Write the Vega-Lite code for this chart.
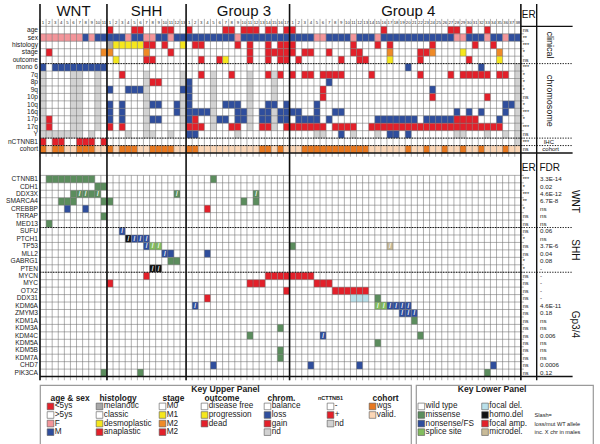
{
"$schema":"https://vega.github.io/schema/vega-lite/v6.json",
"padding":{"left":6,"top":3,"right":0,"bottom":0},
"autosize":{"type":"pad"},
"spacing":0,
"config":{"font":"Liberation Sans","view":{"stroke":null},"concat":{"spacing":0},"text":{"font":"Liberation Sans"}},
"datasets":{
"cols":[{"c":"W1","n":"1"},{"c":"W2","n":"2"},{"c":"W3","n":"3"},{"c":"W4","n":"4"},{"c":"W5","n":"5"},{"c":"W6","n":"6"},{"c":"W7","n":"7"},{"c":"W8","n":"8"},{"c":"W9","n":"9"},{"c":"W10","n":"10"},{"c":"W11","n":"11"},
{"c":"S1","n":"1"},{"c":"S2","n":"2"},{"c":"S3","n":"3"},{"c":"S4","n":"4"},{"c":"S5","n":"5"},{"c":"S6","n":"6"},{"c":"S7","n":"7"},{"c":"S8","n":"8"},{"c":"S9","n":"9"},{"c":"S10","n":"10"},{"c":"S11","n":"11"},{"c":"S12","n":"12"},{"c":"S13","n":"13"},
{"c":"A1","n":"1"},{"c":"A2","n":"2"},{"c":"A3","n":"3"},{"c":"A4","n":"4"},{"c":"A5","n":"5"},{"c":"A6","n":"6"},{"c":"A7","n":"7"},{"c":"A8","n":"8"},{"c":"A9","n":"9"},{"c":"A10","n":"10"},{"c":"A11","n":"11"},{"c":"A12","n":"12"},{"c":"A13","n":"13"},{"c":"A14","n":"14"},{"c":"A15","n":"15"},{"c":"A16","n":"16"},{"c":"A17","n":"17"},
{"c":"B1","n":"1"},{"c":"B2","n":"2"},{"c":"B3","n":"3"},{"c":"B4","n":"4"},{"c":"B5","n":"5"},{"c":"B6","n":"6"},{"c":"B7","n":"7"},{"c":"B8","n":"8"},{"c":"B9","n":"9"},{"c":"B10","n":"10"},{"c":"B11","n":"11"},{"c":"B12","n":"12"},{"c":"B13","n":"13"},{"c":"B14","n":"14"},{"c":"B15","n":"15"},{"c":"B16","n":"16"},{"c":"B17","n":"17"},{"c":"B18","n":"18"},{"c":"B19","n":"19"},{"c":"B20","n":"20"},{"c":"B21","n":"21"},{"c":"B22","n":"22"},{"c":"B23","n":"23"},{"c":"B24","n":"24"},{"c":"B25","n":"25"},{"c":"B26","n":"26"},{"c":"B27","n":"27"},{"c":"B28","n":"28"},{"c":"B29","n":"29"},{"c":"B30","n":"30"},{"c":"B31","n":"31"},{"c":"B32","n":"32"},{"c":"B33","n":"33"},{"c":"B34","n":"34"},{"c":"B35","n":"35"},{"c":"B36","n":"36"},{"c":"B37","n":"37"},{"c":"B38","n":"38"}],
"rows":[{"r":"age","er":"ns"},{"r":"sex","er":"**"},{"r":"histology","er":"***"},{"r":"stage","er":"*"},{"r":"outcome","er":"ns"},{"r":"mono 6","er":"***"},{"r":"7q","er":"*"},{"r":"8p","er":"*"},{"r":"9q","er":"*"},{"r":"10p","er":"ns"},{"r":"10q","er":"*"},{"r":"16q","er":"***"},{"r":"17p","er":"*"},{"r":"17q","er":"***"},{"r":"Y","er":"ns"},{"r":"nCTNNB1","er":"***"},{"r":"cohort","er":"ns"},
{"r":"CTNNB1","er":"***","fdr":"3.3E-14"},{"r":"CDH1","er":"*","fdr":"0.02"},{"r":"DDX3X","er":"***","fdr":"4.6E-12"},{"r":"SMARCA4","er":"**","fdr":"6.7E-8"},{"r":"CREBBP","er":"*","fdr":"ns"},{"r":"TRRAP","er":"ns","fdr":"ns"},{"r":"MED13","er":"ns","fdr":"ns"},{"r":"SUFU","er":"ns","fdr":"0.06"},{"r":"PTCH1","er":"*","fdr":"ns"},{"r":"TP53","er":"ns","fdr":"3.7E-6"},{"r":"MLL2","er":"ns","fdr":"0.04"},{"r":"GABRG1","er":"*","fdr":"0.08"},{"r":"PTEN","er":"*","fdr":"-"},{"r":"MYCN","er":"ns","fdr":"-"},{"r":"MYC","er":"ns","fdr":"-"},{"r":"OTX2","er":"ns","fdr":"-"},{"r":"DDX31","er":"ns","fdr":"-"},{"r":"KDM6A","er":"ns","fdr":"4.6E-11"},{"r":"ZMYM3","er":"ns","fdr":"0.18"},{"r":"KDM1A","er":"ns","fdr":"ns"},{"r":"KDM3A","er":"ns","fdr":"ns"},{"r":"KDM4C","er":"ns","fdr":"0.006"},{"r":"KDM5A","er":"ns","fdr":"ns"},{"r":"KDM5B","er":"ns","fdr":"ns"},{"r":"KDM7A","er":"ns","fdr":"ns"},{"r":"CHD7","er":"ns","fdr":"0.0006"},{"r":"PIK3CA","er":"ns","fdr":"0.12"}],
"cells":[
{"r":"age","c":"S1","v":"lt5"},{"r":"age","c":"S5","v":"lt5"},{"r":"age","c":"S6","v":"lt5"},{"r":"age","c":"S10","v":"lt5"},{"r":"age","c":"S11","v":"lt5"},{"r":"age","c":"A1","v":"lt5"},{"r":"age","c":"A7","v":"lt5"},{"r":"age","c":"A8","v":"lt5"},{"r":"age","c":"A10","v":"lt5"},{"r":"age","c":"A11","v":"lt5"},{"r":"age","c":"A12","v":"lt5"},{"r":"age","c":"A14","v":"lt5"},{"r":"age","c":"A15","v":"lt5"},{"r":"age","c":"A17","v":"lt5"},{"r":"age","c":"B1","v":"lt5"},{"r":"age","c":"B16","v":"lt5"},{"r":"age","c":"B27","v":"lt5"},{"r":"age","c":"B28","v":"lt5"},{"r":"age","c":"B30","v":"lt5"},{"r":"age","c":"B33","v":"lt5"},
{"r":"sex","c":"W1","v":"F"},{"r":"sex","c":"W2","v":"F"},{"r":"sex","c":"W3","v":"F"},{"r":"sex","c":"W4","v":"F"},{"r":"sex","c":"W5","v":"F"},{"r":"sex","c":"W6","v":"F"},{"r":"sex","c":"W7","v":"F"},{"r":"sex","c":"W8","v":"M"},{"r":"sex","c":"W9","v":"F"},{"r":"sex","c":"W10","v":"M"},{"r":"sex","c":"W11","v":"M"},
{"r":"sex","c":"S1","v":"M"},{"r":"sex","c":"S2","v":"M"},{"r":"sex","c":"S3","v":"M"},{"r":"sex","c":"S4","v":"F"},{"r":"sex","c":"S5","v":"M"},{"r":"sex","c":"S6","v":"M"},{"r":"sex","c":"S7","v":"F"},{"r":"sex","c":"S8","v":"F"},{"r":"sex","c":"S9","v":"M"},{"r":"sex","c":"S10","v":"M"},{"r":"sex","c":"S11","v":"F"},{"r":"sex","c":"S12","v":"M"},{"r":"sex","c":"S13","v":"M"},
{"r":"sex","c":"A1","v":"M"},{"r":"sex","c":"A2","v":"M"},{"r":"sex","c":"A3","v":"M"},{"r":"sex","c":"A4","v":"M"},{"r":"sex","c":"A5","v":"M"},{"r":"sex","c":"A6","v":"M"},{"r":"sex","c":"A7","v":"M"},{"r":"sex","c":"A8","v":"M"},{"r":"sex","c":"A9","v":"F"},{"r":"sex","c":"A10","v":"M"},{"r":"sex","c":"A11","v":"M"},{"r":"sex","c":"A12","v":"M"},{"r":"sex","c":"A13","v":"M"},{"r":"sex","c":"A14","v":"M"},{"r":"sex","c":"A15","v":"M"},{"r":"sex","c":"A16","v":"M"},{"r":"sex","c":"A17","v":"M"},
{"r":"sex","c":"B1","v":"M"},{"r":"sex","c":"B2","v":"M"},{"r":"sex","c":"B3","v":"M"},{"r":"sex","c":"B4","v":"M"},{"r":"sex","c":"B5","v":"F"},{"r":"sex","c":"B6","v":"F"},{"r":"sex","c":"B7","v":"M"},{"r":"sex","c":"B8","v":"M"},{"r":"sex","c":"B9","v":"M"},{"r":"sex","c":"B10","v":"M"},{"r":"sex","c":"B11","v":"F"},{"r":"sex","c":"B12","v":"M"},{"r":"sex","c":"B13","v":"M"},{"r":"sex","c":"B14","v":"M"},{"r":"sex","c":"B15","v":"F"},{"r":"sex","c":"B16","v":"M"},{"r":"sex","c":"B17","v":"M"},{"r":"sex","c":"B18","v":"M"},{"r":"sex","c":"B19","v":"M"},{"r":"sex","c":"B20","v":"M"},{"r":"sex","c":"B21","v":"M"},{"r":"sex","c":"B22","v":"M"},{"r":"sex","c":"B23","v":"M"},{"r":"sex","c":"B24","v":"M"},{"r":"sex","c":"B25","v":"M"},{"r":"sex","c":"B26","v":"M"},{"r":"sex","c":"B27","v":"M"},{"r":"sex","c":"B28","v":"F"},{"r":"sex","c":"B29","v":"F"},{"r":"sex","c":"B30","v":"M"},{"r":"sex","c":"B31","v":"M"},{"r":"sex","c":"B32","v":"M"},{"r":"sex","c":"B33","v":"F"},{"r":"sex","c":"B34","v":"M"},{"r":"sex","c":"B35","v":"M"},{"r":"sex","c":"B36","v":"F"},{"r":"sex","c":"B37","v":"M"},{"r":"sex","c":"B38","v":"M"},
{"r":"histology","c":"S1","v":"mel"},{"r":"histology","c":"S2","v":"desmo"},{"r":"histology","c":"S3","v":"desmo"},{"r":"histology","c":"S4","v":"desmo"},{"r":"histology","c":"S5","v":"desmo"},{"r":"histology","c":"S6","v":"desmo"},{"r":"histology","c":"S7","v":"anap"},{"r":"histology","c":"S8","v":"anap"},{"r":"histology","c":"S10","v":"anap"},{"r":"histology","c":"S13","v":"desmo"},{"r":"histology","c":"A2","v":"anap"},{"r":"histology","c":"A3","v":"anap"},{"r":"histology","c":"A9","v":"anap"},{"r":"histology","c":"A11","v":"anap"},{"r":"histology","c":"A14","v":"anap"},{"r":"histology","c":"A16","v":"anap"},{"r":"histology","c":"A17","v":"anap"},{"r":"histology","c":"B1","v":"anap"},{"r":"histology","c":"B11","v":"anap"},{"r":"histology","c":"B15","v":"anap"},{"r":"histology","c":"B17","v":"anap"},{"r":"histology","c":"B24","v":"anap"},{"r":"histology","c":"B31","v":"anap"},{"r":"histology","c":"B34","v":"anap"},
{"r":"stage","c":"W2","v":"M3"},{"r":"stage","c":"W11","v":"M2"},{"r":"stage","c":"S1","v":"M2"},{"r":"stage","c":"S7","v":"M2"},{"r":"stage","c":"S11","v":"M3"},{"r":"stage","c":"A11","v":"M3"},{"r":"stage","c":"A14","v":"M3"},{"r":"stage","c":"A15","v":"M3"},{"r":"stage","c":"A16","v":"M3"},{"r":"stage","c":"A17","v":"M3"},{"r":"stage","c":"B1","v":"M3"},{"r":"stage","c":"B3","v":"M3"},{"r":"stage","c":"B4","v":"M3"},{"r":"stage","c":"B7","v":"M3"},{"r":"stage","c":"B11","v":"M3"},{"r":"stage","c":"B12","v":"M3"},{"r":"stage","c":"B17","v":"M2"},{"r":"stage","c":"B22","v":"M3"},{"r":"stage","c":"B23","v":"M3"},{"r":"stage","c":"B24","v":"M2"},{"r":"stage","c":"B29","v":"M1"},{"r":"stage","c":"B35","v":"M2"},
{"r":"outcome","c":"S2","v":"prog"},{"r":"outcome","c":"S7","v":"dead"},{"r":"outcome","c":"S8","v":"dead"},{"r":"outcome","c":"A3","v":"dead"},{"r":"outcome","c":"A6","v":"dead"},{"r":"outcome","c":"A7","v":"prog"},{"r":"outcome","c":"A11","v":"dead"},{"r":"outcome","c":"A14","v":"dead"},{"r":"outcome","c":"A16","v":"dead"},{"r":"outcome","c":"A17","v":"dead"},{"r":"outcome","c":"B2","v":"dead"},{"r":"outcome","c":"B9","v":"dead"},{"r":"outcome","c":"B12","v":"dead"},{"r":"outcome","c":"B13","v":"dead"},{"r":"outcome","c":"B17","v":"prog"},{"r":"outcome","c":"B22","v":"dead"},{"r":"outcome","c":"B30","v":"dead"},{"r":"outcome","c":"B35","v":"prog"},
{"r":"mono 6","c":"W1","v":"loss"},{"r":"mono 6","c":"W3","v":"loss"},{"r":"mono 6","c":"W4","v":"loss"},{"r":"mono 6","c":"W5","v":"loss"},{"r":"mono 6","c":"W6","v":"loss"},{"r":"mono 6","c":"W7","v":"loss"},{"r":"mono 6","c":"W8","v":"loss"},{"r":"mono 6","c":"W9","v":"loss"},{"r":"mono 6","c":"W10","v":"loss"},{"r":"mono 6","c":"W11","v":"loss"},{"r":"mono 6","c":"B20","v":"loss"},{"r":"mono 6","c":"B32","v":"loss"},{"r":"mono 6","c":"B38","v":"nd"},
{"r":"7q","c":"S3","v":"gain"},{"r":"7q","c":"A3","v":"gain"},{"r":"7q","c":"A8","v":"gain"},{"r":"7q","c":"A14","v":"gain"},{"r":"7q","c":"A16","v":"gain"},{"r":"7q","c":"B1","v":"gain"},{"r":"7q","c":"B3","v":"gain"},{"r":"7q","c":"B4","v":"gain"},{"r":"7q","c":"B6","v":"gain"},{"r":"7q","c":"B7","v":"gain"},{"r":"7q","c":"B8","v":"gain"},{"r":"7q","c":"B9","v":"gain"},{"r":"7q","c":"B14","v":"gain"},{"r":"7q","c":"B22","v":"gain"},{"r":"7q","c":"B27","v":"gain"},{"r":"7q","c":"B29","v":"gain"},{"r":"7q","c":"B30","v":"gain"},{"r":"7q","c":"B31","v":"gain"},{"r":"7q","c":"B32","v":"gain"},{"r":"7q","c":"B33","v":"gain"},{"r":"7q","c":"B35","v":"gain"},{"r":"7q","c":"B36","v":"gain"},
{"r":"8p","c":"S8","v":"gain"},{"r":"8p","c":"S9","v":"gain"},{"r":"8p","c":"A1","v":"loss"},{"r":"8p","c":"B7","v":"loss"},
{"r":"9q","c":"S1","v":"loss"},{"r":"9q","c":"S4","v":"loss"},{"r":"9q","c":"S5","v":"loss"},{"r":"9q","c":"S6","v":"loss"},{"r":"9q","c":"S13","v":"loss"},{"r":"9q","c":"A1","v":"loss"},{"r":"9q","c":"B24","v":"loss"},{"r":"9q","c":"B6","v":"gain"},
{"r":"10p","c":"A1","v":"loss"},{"r":"10p","c":"B6","v":"gain"},{"r":"10p","c":"B24","v":"gain"},{"r":"10p","c":"B33","v":"gain"},
{"r":"10q","c":"S1","v":"loss"},{"r":"10q","c":"S3","v":"loss"},{"r":"10q","c":"S8","v":"loss"},{"r":"10q","c":"S9","v":"loss"},{"r":"10q","c":"S12","v":"loss"},{"r":"10q","c":"A1","v":"loss"},{"r":"10q","c":"A7","v":"loss"},{"r":"10q","c":"A8","v":"loss"},{"r":"10q","c":"A9","v":"loss"},{"r":"10q","c":"A14","v":"loss"},{"r":"10q","c":"A15","v":"loss"},{"r":"10q","c":"A17","v":"loss"},{"r":"10q","c":"B5","v":"loss"},{"r":"10q","c":"B36","v":"loss"},{"r":"10q","c":"B37","v":"loss"},
{"r":"16q","c":"S1","v":"loss"},{"r":"16q","c":"S3","v":"loss"},{"r":"16q","c":"S12","v":"loss"},{"r":"16q","c":"A1","v":"loss"},{"r":"16q","c":"A2","v":"loss"},{"r":"16q","c":"A3","v":"loss"},{"r":"16q","c":"A4","v":"loss"},{"r":"16q","c":"A9","v":"loss"},{"r":"16q","c":"A10","v":"loss"},{"r":"16q","c":"A13","v":"loss"},{"r":"16q","c":"A14","v":"loss"},{"r":"16q","c":"A16","v":"loss"},{"r":"16q","c":"A17","v":"loss"},{"r":"16q","c":"B1","v":"loss"},{"r":"16q","c":"B2","v":"loss"},{"r":"16q","c":"B5","v":"loss"},{"r":"16q","c":"B8","v":"loss"},{"r":"16q","c":"B9","v":"loss"},{"r":"16q","c":"B28","v":"loss"},{"r":"16q","c":"B30","v":"loss"},{"r":"16q","c":"B32","v":"loss"},{"r":"16q","c":"B36","v":"loss"},
{"r":"17p","c":"W2","v":"gain"},{"r":"17p","c":"S1","v":"loss"},{"r":"17p","c":"S3","v":"loss"},{"r":"17p","c":"S8","v":"loss"},{"r":"17p","c":"S9","v":"loss"},{"r":"17p","c":"A1","v":"loss"},{"r":"17p","c":"A2","v":"gain"},{"r":"17p","c":"A6","v":"loss"},{"r":"17p","c":"A7","v":"loss"},{"r":"17p","c":"A9","v":"loss"},{"r":"17p","c":"A10","v":"loss"},{"r":"17p","c":"A13","v":"loss"},{"r":"17p","c":"A14","v":"loss"},{"r":"17p","c":"A16","v":"loss"},{"r":"17p","c":"A17","v":"loss"},{"r":"17p","c":"B2","v":"loss"},{"r":"17p","c":"B3","v":"loss"},{"r":"17p","c":"B4","v":"loss"},{"r":"17p","c":"B5","v":"loss"},{"r":"17p","c":"B7","v":"loss"},{"r":"17p","c":"B15","v":"loss"},{"r":"17p","c":"B16","v":"loss"},{"r":"17p","c":"B17","v":"loss"},{"r":"17p","c":"B18","v":"loss"},{"r":"17p","c":"B19","v":"loss"},{"r":"17p","c":"B20","v":"loss"},{"r":"17p","c":"B21","v":"loss"},{"r":"17p","c":"B23","v":"loss"},{"r":"17p","c":"B24","v":"loss"},{"r":"17p","c":"B25","v":"loss"},{"r":"17p","c":"B26","v":"loss"},{"r":"17p","c":"B27","v":"loss"},{"r":"17p","c":"B28","v":"gain"},{"r":"17p","c":"B29","v":"gain"},{"r":"17p","c":"B30","v":"gain"},{"r":"17p","c":"B31","v":"gain"},{"r":"17p","c":"B35","v":"loss"},
{"r":"17q","c":"W2","v":"gain"},{"r":"17q","c":"S1","v":"gain"},{"r":"17q","c":"S3","v":"gain"},{"r":"17q","c":"A1","v":"gain"},{"r":"17q","c":"A2","v":"gain"},{"r":"17q","c":"A3","v":"gain"},{"r":"17q","c":"A8","v":"gain"},{"r":"17q","c":"A9","v":"gain"},{"r":"17q","c":"A13","v":"gain"},{"r":"17q","c":"A14","v":"gain"},{"r":"17q","c":"A17","v":"gain"},{"r":"17q","c":"B1","v":"gain"},{"r":"17q","c":"B2","v":"gain"},{"r":"17q","c":"B3","v":"gain"},{"r":"17q","c":"B4","v":"gain"},{"r":"17q","c":"B5","v":"gain"},{"r":"17q","c":"B6","v":"gain"},{"r":"17q","c":"B8","v":"gain"},{"r":"17q","c":"B9","v":"gain"},{"r":"17q","c":"B10","v":"gain"},{"r":"17q","c":"B11","v":"gain"},{"r":"17q","c":"B14","v":"gain"},{"r":"17q","c":"B15","v":"gain"},{"r":"17q","c":"B16","v":"gain"},{"r":"17q","c":"B17","v":"gain"},{"r":"17q","c":"B18","v":"gain"},{"r":"17q","c":"B19","v":"gain"},{"r":"17q","c":"B20","v":"gain"},{"r":"17q","c":"B21","v":"gain"},{"r":"17q","c":"B22","v":"gain"},{"r":"17q","c":"B23","v":"gain"},{"r":"17q","c":"B24","v":"gain"},{"r":"17q","c":"B25","v":"gain"},{"r":"17q","c":"B26","v":"gain"},{"r":"17q","c":"B27","v":"gain"},{"r":"17q","c":"B28","v":"gain"},{"r":"17q","c":"B29","v":"gain"},{"r":"17q","c":"B30","v":"gain"},{"r":"17q","c":"B31","v":"gain"},{"r":"17q","c":"B32","v":"gain"},{"r":"17q","c":"B33","v":"gain"},{"r":"17q","c":"B34","v":"gain"},{"r":"17q","c":"B35","v":"gain"},
{"r":"Y","c":"A1","v":"loss"},{"r":"Y","c":"A2","v":"loss"},{"r":"Y","c":"B9","v":"loss"},{"r":"Y","c":"B17","v":"loss"},{"r":"Y","c":"B18","v":"loss"},{"r":"Y","c":"B20","v":"loss"},
{"r":"Y","c":"W1","v":"nd"},{"r":"Y","c":"W2","v":"nd"},{"r":"Y","c":"W3","v":"nd"},{"r":"Y","c":"W4","v":"nd"},{"r":"Y","c":"W5","v":"nd"},{"r":"Y","c":"W6","v":"nd"},{"r":"Y","c":"W7","v":"nd"},{"r":"Y","c":"W9","v":"nd"},{"r":"Y","c":"S4","v":"nd"},{"r":"Y","c":"S7","v":"nd"},{"r":"Y","c":"S8","v":"nd"},{"r":"Y","c":"S11","v":"nd"},{"r":"Y","c":"A9","v":"nd"},{"r":"Y","c":"B5","v":"nd"},{"r":"Y","c":"B6","v":"nd"},{"r":"Y","c":"B11","v":"nd"},{"r":"Y","c":"B15","v":"nd"},{"r":"Y","c":"B28","v":"nd"},{"r":"Y","c":"B29","v":"nd"},{"r":"Y","c":"B33","v":"nd"},{"r":"Y","c":"B36","v":"nd"},{"r":"Y","c":"B38","v":"nd"},
{"r":"7q","c":"W1","v":"nd"},{"r":"8p","c":"W1","v":"nd"},{"r":"9q","c":"W1","v":"nd"},{"r":"10p","c":"W1","v":"nd"},{"r":"10q","c":"W1","v":"nd"},{"r":"16q","c":"W1","v":"nd"},{"r":"17p","c":"W1","v":"nd"},{"r":"17q","c":"W1","v":"nd"},
{"r":"7q","c":"W6","v":"nd"},{"r":"8p","c":"W6","v":"nd"},{"r":"9q","c":"W6","v":"nd"},{"r":"10p","c":"W6","v":"nd"},{"r":"10q","c":"W6","v":"nd"},{"r":"16q","c":"W6","v":"nd"},{"r":"17p","c":"W6","v":"nd"},{"r":"17q","c":"W6","v":"nd"},
{"r":"7q","c":"W7","v":"nd"},{"r":"8p","c":"W7","v":"nd"},{"r":"9q","c":"W7","v":"nd"},{"r":"10p","c":"W7","v":"nd"},{"r":"10q","c":"W7","v":"nd"},{"r":"16q","c":"W7","v":"nd"},{"r":"17p","c":"W7","v":"nd"},{"r":"17q","c":"W7","v":"nd"},
{"r":"7q","c":"W10","v":"nd"},{"r":"8p","c":"W10","v":"nd"},{"r":"9q","c":"W10","v":"nd"},{"r":"10p","c":"W10","v":"nd"},{"r":"10q","c":"W10","v":"nd"},{"r":"16q","c":"W10","v":"nd"},{"r":"17p","c":"W10","v":"nd"},{"r":"17q","c":"W10","v":"nd"},
{"r":"7q","c":"S7","v":"nd"},{"r":"8p","c":"S7","v":"nd"},{"r":"9q","c":"S7","v":"nd"},{"r":"10p","c":"S7","v":"nd"},{"r":"10q","c":"S7","v":"nd"},{"r":"16q","c":"S7","v":"nd"},{"r":"17p","c":"S7","v":"nd"},{"r":"17q","c":"S7","v":"nd"},
{"r":"7q","c":"S13","v":"nd"},{"r":"8p","c":"S13","v":"nd"},{"r":"10p","c":"S13","v":"nd"},{"r":"10q","c":"S13","v":"nd"},{"r":"16q","c":"S13","v":"nd"},{"r":"17p","c":"S13","v":"nd"},{"r":"17q","c":"S13","v":"nd"},
{"r":"7q","c":"A5","v":"nd"},{"r":"8p","c":"A5","v":"nd"},{"r":"9q","c":"A5","v":"nd"},{"r":"10p","c":"A5","v":"nd"},{"r":"10q","c":"A5","v":"nd"},{"r":"16q","c":"A5","v":"nd"},{"r":"17p","c":"A5","v":"nd"},{"r":"17q","c":"A5","v":"nd"},
{"r":"7q","c":"A11","v":"nd"},{"r":"8p","c":"A11","v":"nd"},{"r":"9q","c":"A11","v":"nd"},{"r":"10p","c":"A11","v":"nd"},{"r":"10q","c":"A11","v":"nd"},{"r":"16q","c":"A11","v":"nd"},{"r":"17p","c":"A11","v":"nd"},{"r":"17q","c":"A11","v":"nd"},
{"r":"7q","c":"A15","v":"nd"},{"r":"8p","c":"A15","v":"nd"},{"r":"9q","c":"A15","v":"nd"},{"r":"10p","c":"A15","v":"nd"},{"r":"16q","c":"A15","v":"nd"},{"r":"17p","c":"A15","v":"nd"},{"r":"17q","c":"A15","v":"nd"},
{"r":"7q","c":"B38","v":"nd"},{"r":"8p","c":"B38","v":"nd"},{"r":"9q","c":"B38","v":"nd"},{"r":"10p","c":"B38","v":"nd"},{"r":"10q","c":"B38","v":"nd"},{"r":"16q","c":"B38","v":"nd"},{"r":"17p","c":"B38","v":"nd"},{"r":"17q","c":"B38","v":"nd"},{"r":"nCTNNB1","c":"B38","v":"nd"},
{"r":"nCTNNB1","c":"W1","v":"pos"},{"r":"nCTNNB1","c":"W3","v":"pos"},{"r":"nCTNNB1","c":"W4","v":"pos"},{"r":"nCTNNB1","c":"W7","v":"pos"},{"r":"nCTNNB1","c":"W8","v":"pos"},{"r":"nCTNNB1","c":"W9","v":"pos"},{"r":"nCTNNB1","c":"W11","v":"pos"},
{"r":"cohort","c":"W1","v":"wgs"},{"r":"cohort","c":"W2","v":"valid"},{"r":"cohort","c":"W3","v":"wgs"},{"r":"cohort","c":"W4","v":"wgs"},{"r":"cohort","c":"W5","v":"valid"},{"r":"cohort","c":"W6","v":"valid"},{"r":"cohort","c":"W7","v":"wgs"},{"r":"cohort","c":"W8","v":"wgs"},{"r":"cohort","c":"W9","v":"wgs"},{"r":"cohort","c":"W10","v":"valid"},{"r":"cohort","c":"W11","v":"valid"},
{"r":"cohort","c":"S1","v":"wgs"},{"r":"cohort","c":"S2","v":"valid"},{"r":"cohort","c":"S3","v":"wgs"},{"r":"cohort","c":"S4","v":"wgs"},{"r":"cohort","c":"S5","v":"wgs"},{"r":"cohort","c":"S6","v":"valid"},{"r":"cohort","c":"S7","v":"valid"},{"r":"cohort","c":"S8","v":"wgs"},{"r":"cohort","c":"S9","v":"wgs"},{"r":"cohort","c":"S10","v":"wgs"},{"r":"cohort","c":"S11","v":"wgs"},{"r":"cohort","c":"S12","v":"valid"},{"r":"cohort","c":"S13","v":"valid"},
{"r":"cohort","c":"A1","v":"wgs"},{"r":"cohort","c":"A2","v":"wgs"},{"r":"cohort","c":"A3","v":"valid"},{"r":"cohort","c":"A4","v":"valid"},{"r":"cohort","c":"A5","v":"valid"},{"r":"cohort","c":"A6","v":"valid"},{"r":"cohort","c":"A7","v":"valid"},{"r":"cohort","c":"A8","v":"valid"},{"r":"cohort","c":"A9","v":"valid"},{"r":"cohort","c":"A10","v":"valid"},{"r":"cohort","c":"A11","v":"valid"},{"r":"cohort","c":"A12","v":"valid"},{"r":"cohort","c":"A13","v":"wgs"},{"r":"cohort","c":"A14","v":"wgs"},{"r":"cohort","c":"A15","v":"valid"},{"r":"cohort","c":"A16","v":"wgs"},{"r":"cohort","c":"A17","v":"valid"},
{"r":"cohort","c":"B1","v":"valid"},{"r":"cohort","c":"B2","v":"valid"},{"r":"cohort","c":"B3","v":"wgs"},{"r":"cohort","c":"B4","v":"wgs"},{"r":"cohort","c":"B5","v":"wgs"},{"r":"cohort","c":"B6","v":"wgs"},{"r":"cohort","c":"B7","v":"wgs"},{"r":"cohort","c":"B8","v":"wgs"},{"r":"cohort","c":"B9","v":"wgs"},{"r":"cohort","c":"B10","v":"wgs"},{"r":"cohort","c":"B11","v":"wgs"},{"r":"cohort","c":"B12","v":"wgs"},{"r":"cohort","c":"B13","v":"wgs"},{"r":"cohort","c":"B14","v":"valid"},{"r":"cohort","c":"B15","v":"valid"},{"r":"cohort","c":"B16","v":"valid"},{"r":"cohort","c":"B17","v":"valid"},{"r":"cohort","c":"B18","v":"valid"},{"r":"cohort","c":"B19","v":"valid"},{"r":"cohort","c":"B20","v":"wgs"},{"r":"cohort","c":"B21","v":"valid"},{"r":"cohort","c":"B22","v":"valid"},{"r":"cohort","c":"B23","v":"wgs"},{"r":"cohort","c":"B24","v":"valid"},{"r":"cohort","c":"B25","v":"valid"},{"r":"cohort","c":"B26","v":"wgs"},{"r":"cohort","c":"B27","v":"valid"},{"r":"cohort","c":"B28","v":"valid"},{"r":"cohort","c":"B29","v":"wgs"},{"r":"cohort","c":"B30","v":"valid"},{"r":"cohort","c":"B31","v":"valid"},{"r":"cohort","c":"B32","v":"wgs"},{"r":"cohort","c":"B33","v":"valid"},{"r":"cohort","c":"B34","v":"valid"},{"r":"cohort","c":"B35","v":"valid"},{"r":"cohort","c":"B36","v":"wgs"},{"r":"cohort","c":"B37","v":"valid"},{"r":"cohort","c":"B38","v":"valid"},
{"r":"CTNNB1","c":"W2","v":"mis"},{"r":"CTNNB1","c":"W3","v":"mis"},{"r":"CTNNB1","c":"W4","v":"mis"},{"r":"CTNNB1","c":"W5","v":"mis"},{"r":"CTNNB1","c":"W6","v":"mis"},{"r":"CTNNB1","c":"W7","v":"mis"},{"r":"CTNNB1","c":"W8","v":"mis"},{"r":"CTNNB1","c":"W9","v":"mis"},{"r":"CTNNB1","c":"A5","v":"mis"},
{"r":"CDH1","c":"W10","v":"mis"},{"r":"CDH1","c":"W11","v":"mis"},
{"r":"DDX3X","c":"W6","v":"mis"},{"r":"DDX3X","c":"W7","v":"mis","s":1},{"r":"DDX3X","c":"W8","v":"mis","s":1},{"r":"DDX3X","c":"W9","v":"mis"},{"r":"DDX3X","c":"W10","v":"mis","s":1},{"r":"DDX3X","c":"S12","v":"mis","s":1},{"r":"DDX3X","c":"A12","v":"mis","s":1},
{"r":"SMARCA4","c":"W4","v":"mis"},{"r":"SMARCA4","c":"W5","v":"mis"},{"r":"SMARCA4","c":"W6","v":"mis"},{"r":"SMARCA4","c":"W11","v":"mis"},{"r":"SMARCA4","c":"S1","v":"mis"},{"r":"SMARCA4","c":"A10","v":"mis"},{"r":"SMARCA4","c":"A12","v":"mis"},
{"r":"CREBBP","c":"W5","v":"non"},{"r":"CREBBP","c":"W8","v":"non"},{"r":"CREBBP","c":"A4","v":"famp"},
{"r":"TRRAP","c":"W11","v":"mis"},{"r":"MED13","c":"W2","v":"mis"},
{"r":"SUFU","c":"S3","v":"non","s":1},
{"r":"PTCH1","c":"S4","v":"homo","s":1},{"r":"PTCH1","c":"S5","v":"non","s":1},{"r":"PTCH1","c":"S6","v":"non","s":1},{"r":"PTCH1","c":"S7","v":"non","s":1},
{"r":"TP53","c":"S7","v":"non","s":1},{"r":"TP53","c":"S8","v":"spl","s":1},{"r":"TP53","c":"S9","v":"spl","s":1},{"r":"TP53","c":"B1","v":"mis"},{"r":"TP53","c":"B17","v":"micro","s":1},
{"r":"MLL2","c":"S10","v":"non","s":1},{"r":"MLL2","c":"S11","v":"non"},{"r":"MLL2","c":"A4","v":"non"},
{"r":"GABRG1","c":"S11","v":"mis"},{"r":"GABRG1","c":"S12","v":"mis"},
{"r":"PTEN","c":"S8","v":"homo","s":1},{"r":"PTEN","c":"S9","v":"homo","s":1},
{"r":"MYCN","c":"S7","v":"famp"},{"r":"MYCN","c":"A14","v":"famp"},{"r":"MYCN","c":"A15","v":"famp"},{"r":"MYCN","c":"A16","v":"famp"},{"r":"MYCN","c":"A17","v":"famp"},{"r":"MYCN","c":"B1","v":"famp"},{"r":"MYCN","c":"B2","v":"famp"},{"r":"MYCN","c":"B3","v":"famp"},{"r":"MYCN","c":"B4","v":"famp"},
{"r":"MYC","c":"S1","v":"famp"},{"r":"MYC","c":"A11","v":"famp"},{"r":"MYC","c":"A12","v":"famp"},{"r":"MYC","c":"A13","v":"famp"},{"r":"MYC","c":"B5","v":"famp"},{"r":"MYC","c":"B6","v":"famp"},{"r":"MYC","c":"B7","v":"famp"},
{"r":"OTX2","c":"A17","v":"famp"},{"r":"OTX2","c":"B8","v":"famp"},{"r":"OTX2","c":"B9","v":"famp"},{"r":"OTX2","c":"B10","v":"famp"},{"r":"OTX2","c":"B11","v":"famp"},{"r":"OTX2","c":"B12","v":"famp"},{"r":"OTX2","c":"B13","v":"famp"},
{"r":"DDX31","c":"A4","v":"famp"},{"r":"DDX31","c":"B11","v":"fdel"},{"r":"DDX31","c":"B12","v":"fdel"},{"r":"DDX31","c":"B13","v":"fdel"},{"r":"DDX31","c":"B15","v":"mis"},
{"r":"KDM6A","c":"A2","v":"non","s":1},{"r":"KDM6A","c":"B15","v":"spl","s":1},{"r":"KDM6A","c":"B16","v":"spl","s":1},{"r":"KDM6A","c":"B17","v":"non","s":1},{"r":"KDM6A","c":"B18","v":"non","s":1},{"r":"KDM6A","c":"B19","v":"non","s":1},{"r":"KDM6A","c":"B20","v":"non","s":1},
{"r":"ZMYM3","c":"B19","v":"non","s":1},{"r":"ZMYM3","c":"B20","v":"non","s":1},{"r":"ZMYM3","c":"B21","v":"non","s":1},
{"r":"KDM1A","c":"B21","v":"mis"},{"r":"KDM3A","c":"A16","v":"mis"},
{"r":"KDM4C","c":"A11","v":"mis"},{"r":"KDM4C","c":"B6","v":"non","s":1},{"r":"KDM4C","c":"B22","v":"mis"},
{"r":"KDM5A","c":"B15","v":"mis"},{"r":"KDM5B","c":"A16","v":"mis"},{"r":"KDM7A","c":"A16","v":"mis"},
{"r":"CHD7","c":"A5","v":"non"},{"r":"CHD7","c":"B4","v":"non"},{"r":"CHD7","c":"B12","v":"non"},{"r":"CHD7","c":"B34","v":"non"},
{"r":"PIK3CA","c":"W11","v":"mis"},{"r":"PIK3CA","c":"S6","v":"mis"},{"r":"PIK3CA","c":"B33","v":"mis"}
],
"legU":[{"g":"age & sex","k":"1","label":"<5ys","cat":"lt5"},{"g":"age & sex","k":"2","label":">5ys","cat":"gt5"},{"g":"age & sex","k":"3","label":"F","cat":"F"},{"g":"age & sex","k":"4","label":"M","cat":"M"},
{"g":"histology","k":"1","label":"melanotic","cat":"mel"},{"g":"histology","k":"2","label":"classic","cat":"classic"},{"g":"histology","k":"3","label":"desmoplastic","cat":"desmo"},{"g":"histology","k":"4","label":"anaplastic","cat":"anap"},
{"g":"stage","k":"1","label":"M0","cat":"M0"},{"g":"stage","k":"2","label":"M1","cat":"M1"},{"g":"stage","k":"3","label":"M2","cat":"M2"},{"g":"stage","k":"4","label":"M2","cat":"M3"},
{"g":"outcome","k":"1","label":"disease free","cat":"df"},{"g":"outcome","k":"2","label":"progression","cat":"prog"},{"g":"outcome","k":"3","label":"dead","cat":"dead"},
{"g":"chrom.","k":"1","label":"balance","cat":"bal"},{"g":"chrom.","k":"2","label":"loss","cat":"loss"},{"g":"chrom.","k":"3","label":"gain","cat":"gain"},{"g":"chrom.","k":"4","label":"nd","cat":"nd"},
{"g":"nCTTNB1","k":"1","label":"-","cat":"neg"},{"g":"nCTTNB1","k":"2","label":"+","cat":"pos"},{"g":"nCTTNB1","k":"3","label":"nd","cat":"nd"},
{"g":"cohort","k":"1","label":"wgs","cat":"wgs"},{"g":"cohort","k":"2","label":"valid.","cat":"valid"}],
"legL":[{"g":"c1","k":"1","label":"wild type","cat":"wt"},{"g":"c1","k":"2","label":"missense","cat":"mis"},{"g":"c1","k":"3","label":"nonsense/FS","cat":"non"},{"g":"c1","k":"4","label":"splice site","cat":"spl"},
{"g":"c2","k":"1","label":"focal del.","cat":"fdel"},{"g":"c2","k":"2","label":"homo.del","cat":"homo"},{"g":"c2","k":"3","label":"focal amp.","cat":"famp"},{"g":"c2","k":"4","label":"microdel.","cat":"micro"}]
},
"vconcat":[
{"width":560,"height":380,"view":{"stroke":null},
"layer":[
{"data":{"name":"cells"},"mark":{"type":"rect"},
"encoding":{
"x":{"field":"c","type":"nominal","axis":null,"scale":{"paddingInner":0,"paddingOuter":0,"domain":["W1","W2","W3","W4","W5","W6","W7","W8","W9","W10","W11","S1","S2","S3","S4","S5","S6","S7","S8","S9","S10","S11","S12","S13","A1","A2","A3","A4","A5","A6","A7","A8","A9","A10","A11","A12","A13","A14","A15","A16","A17","B1","B2","B3","B4","B5","B6","B7","B8","B9","B10","B11","B12","B13","B14","B15","B16","B17","B18","B19","B20","B21","B22","B23","B24","B25","B26","B27","B28","B29","B30","B31","B32","B33","B34","B35","B36","B37","B38","E1","E2","E3","F1","F2","F3","F4","F5","F6","F7","F8","F9","F10"]}},
"y":{"field":"r","type":"nominal","axis":null,"scale":{"paddingInner":0,"paddingOuter":0,"domain":["h1","h2","num","age","sex","histology","stage","outcome","mono 6","7q","8p","9q","10p","10q","16q","17p","17q","Y","nCTNNB1","cohort","g1","g2","g3","CTNNB1","CDH1","DDX3X","SMARCA4","CREBBP","TRRAP","MED13","SUFU","PTCH1","TP53","MLL2","GABRG1","PTEN","MYCN","MYC","OTX2","DDX31","KDM6A","ZMYM3","KDM1A","KDM3A","KDM4C","KDM5A","KDM5B","KDM7A","CHD7","PIK3CA","end"]}},
"fill":{"field":"v","type":"nominal","legend":null,"scale":{"domain":["lt5","gt5","F","M","mel","classic","desmo","anap","M0","M1","M2","M3","df","prog","dead","bal","loss","gain","nd","neg","pos","wgs","valid","wt","mis","non","spl","fdel","homo","famp","micro"],"range":["#e3202a","#ffffff","#f3959a","#2f4e9d","#a8a8a8","#ffffff","#f5e71d","#e3202a","#ffffff","#f5e71d","#ef8a27","#e3202a","#ffffff","#f5e71d","#e3202a","#ffffff","#2f4e9d","#e3202a","#d2d2d2","#ffffff","#e3202a","#e8781f","#fbd6b6","#ffffff","#5b8d5d","#2f4e9d","#83bd5f","#b9e0ea","#111111","#e3202a","#c9bb98"]}}}},
{"data":{"name":"cols"},"mark":{"type":"rule","color":"#6e6e6e","strokeWidth":0.55},
"encoding":{"x":{"field":"c","type":"nominal","bandPosition":0,"axis":null},"y":{"datum":"num","bandPosition":0,"axis":null},"y2":{"datum":"g1"}}},
{"data":{"name":"cols"},"mark":{"type":"rule","color":"#6e6e6e","strokeWidth":0.55},
"encoding":{"x":{"field":"c","type":"nominal","bandPosition":0,"axis":null},"y":{"datum":"CTNNB1","bandPosition":0,"axis":null},"y2":{"datum":"end"}}},
{"data":{"name":"rows"},"mark":{"type":"rule","color":"#6e6e6e","strokeWidth":0.55},
"encoding":{"y":{"field":"r","type":"nominal","bandPosition":0,"axis":null},"x":{"datum":"W1","bandPosition":0,"axis":null},"x2":{"datum":"E1"}}},
{"data":{"values":[{"r":"mono 6"},{"r":"nCTNNB1"},{"r":"cohort"},{"r":"SUFU"},{"r":"MYCN"}]},"mark":{"type":"rule","color":"#000000","strokeWidth":0.9,"strokeDash":[1.3,1.3]},
"encoding":{"y":{"field":"r","type":"nominal","bandPosition":0,"axis":null},"x":{"datum":"W1","bandPosition":0,"axis":null},"x2":{"datum":"F6"}}},
{"data":{"values":[{"c":"W1"},{"c":"S1"},{"c":"A1"},{"c":"B1"},{"c":"E1"}]},"mark":{"type":"rule","color":"#111111","strokeWidth":1.6},
"encoding":{"x":{"field":"c","type":"nominal","bandPosition":0,"axis":null},"y":{"datum":"h1","bandPosition":0,"axis":null},"y2":{"datum":"end"}}},
{"data":{"values":[{}]},"mark":{"type":"rule","color":"#111111","strokeWidth":1.4},
"encoding":{"x":{"datum":"E3","bandPosition":0.6,"axis":null},"y":{"datum":"h1","bandPosition":0,"axis":null},"y2":{"datum":"end"}}},
{"data":{"values":[{"r":"g1"},{"r":"end"}]},"mark":{"type":"rule","color":"#111111","strokeWidth":1.6},
"encoding":{"y":{"field":"r","type":"nominal","bandPosition":0,"axis":null},"x":{"datum":"W1","bandPosition":0,"axis":null},"x2":{"datum":"F6"}}},
{"data":{"values":[{"r":"age"}]},"mark":{"type":"rule","color":"#111111","strokeWidth":1.2},
"encoding":{"y":{"field":"r","type":"nominal","bandPosition":0,"axis":null},"x":{"datum":"E1","bandPosition":0,"axis":null},"x2":{"datum":"F6"}}},
{"data":{"name":"rows"},"mark":{"type":"text","fontSize":6.6,"baseline":"middle","align":"right","dx":-2,"color":"#222222"},
"encoding":{"x":{"datum":"W1","bandPosition":0,"axis":null},"y":{"field":"r","type":"nominal","bandPosition":0.5,"axis":null},"text":{"field":"r"}}},
{"data":{"values":[{"c":"W6","t":"WNT"},{"c":"S7","t":"SHH"},{"c":"A10","t":"Group 3"},{"c":"B20","t":"Group 4"}]},"mark":{"type":"text","fontSize":15,"baseline":"middle","align":"center","color":"#111111"},
"encoding":{"x":{"field":"c","type":"nominal","bandPosition":0.5,"axis":null},"y":{"datum":"h2","bandPosition":0,"axis":null},"text":{"field":"t"}}},
{"data":{"name":"cols"},"mark":{"type":"text","fontSize":4.3,"baseline":"middle","align":"center","color":"#222222"},
"encoding":{"x":{"field":"c","type":"nominal","bandPosition":0.5,"axis":null},"y":{"datum":"num","bandPosition":0.5,"axis":null},"text":{"field":"n"}}},
{"data":{"name":"rows"},"mark":{"type":"text","fontSize":5.5,"baseline":"middle","align":"left","color":"#222222"},
"encoding":{"x":{"datum":"E1","bandPosition":0.3,"axis":null},"y":{"field":"r","type":"nominal","bandPosition":0.5,"axis":null},"text":{"field":"er"}}},
{"data":{"name":"rows"},"transform":[{"filter":"isValid(datum.fdr)"}],"mark":{"type":"text","fontSize":6.2,"baseline":"middle","align":"left","color":"#222222"},
"encoding":{"x":{"datum":"F1","bandPosition":0.15,"axis":null},"y":{"field":"r","type":"nominal","bandPosition":0.5,"axis":null},"text":{"field":"fdr"}}},
{"data":{"values":[{"t":"ER"}]},"mark":{"type":"text","fontSize":10,"baseline":"middle","align":"left","color":"#111111"},
"encoding":{"x":{"datum":"E1","bandPosition":0.15,"axis":null},"y":{"datum":"h2","bandPosition":0.5,"axis":null},"text":{"field":"t"}}},
{"data":{"values":[{"t":"ER"}]},"mark":{"type":"text","fontSize":10,"baseline":"middle","align":"left","color":"#111111"},
"encoding":{"x":{"datum":"E1","bandPosition":0.15,"axis":null},"y":{"datum":"g3","bandPosition":0,"axis":null},"text":{"field":"t"}}},
{"data":{"values":[{"t":"FDR"}]},"mark":{"type":"text","fontSize":10,"baseline":"middle","align":"left","color":"#111111"},
"encoding":{"x":{"datum":"F1","bandPosition":0.05,"axis":null},"y":{"datum":"g3","bandPosition":0,"axis":null},"text":{"field":"t"}}},
{"data":{"values":[{"t":"clinical"}]},"mark":{"type":"text","fontSize":9,"angle":90,"baseline":"middle","align":"center","color":"#111111"},
"encoding":{"x":{"datum":"F2","bandPosition":0.75,"axis":null},"y":{"datum":"histology","bandPosition":0.5,"axis":null},"text":{"field":"t"}}},
{"data":{"values":[{"t":"chromosome"}]},"mark":{"type":"text","fontSize":9,"angle":90,"baseline":"middle","align":"center","color":"#111111"},
"encoding":{"x":{"datum":"F2","bandPosition":0.75,"axis":null},"y":{"datum":"10q","bandPosition":0,"axis":null},"text":{"field":"t"}}},
{"data":{"values":[{"t":"IHC"}]},"mark":{"type":"text","fontSize":6,"baseline":"middle","align":"center","color":"#111111"},
"encoding":{"x":{"datum":"F2","bandPosition":0.6,"axis":null},"y":{"datum":"nCTNNB1","bandPosition":0.5,"axis":null},"text":{"field":"t"}}},
{"data":{"values":[{"t":"cohort"}]},"mark":{"type":"text","fontSize":6,"baseline":"middle","align":"center","color":"#111111"},
"encoding":{"x":{"datum":"F2","bandPosition":0.9,"axis":null},"y":{"datum":"cohort","bandPosition":0.5,"axis":null},"text":{"field":"t"}}},
{"data":{"values":[{"t":"WNT"}]},"mark":{"type":"text","fontSize":10,"angle":90,"baseline":"middle","align":"center","color":"#111111"},
"encoding":{"x":{"datum":"F6","bandPosition":0.9,"axis":null},"y":{"datum":"SMARCA4","bandPosition":0.5,"axis":null},"text":{"field":"t"}}},
{"data":{"values":[{"t":"SHH"}]},"mark":{"type":"text","fontSize":10,"angle":90,"baseline":"middle","align":"center","color":"#111111"},
"encoding":{"x":{"datum":"F6","bandPosition":0.9,"axis":null},"y":{"datum":"MLL2","bandPosition":0,"axis":null},"text":{"field":"t"}}},
{"data":{"values":[{"t":"Gp3/4"}]},"mark":{"type":"text","fontSize":10,"angle":90,"baseline":"middle","align":"center","color":"#111111"},
"encoding":{"x":{"datum":"F6","bandPosition":0.9,"axis":null},"y":{"datum":"KDM3A","bandPosition":0,"axis":null},"text":{"field":"t"}}},
{"data":{"name":"cells"},"transform":[{"filter":"datum.s == 1"}],"mark":{"type":"text","fontSize":6.3,"fontWeight":"bold","baseline":"middle","align":"center","color":"#ffffff","text":"/"},
"encoding":{"x":{"field":"c","type":"nominal","bandPosition":0.5,"axis":null},"y":{"field":"r","type":"nominal","bandPosition":0.5,"axis":null}}}
]},
{"hconcat":[
{"width":371,"height":60,"view":{"stroke":"#9a9a9a","strokeWidth":1.2},
"layer":[
{"data":{"name":"legU"},"mark":{"type":"square","size":44,"stroke":"#555555","strokeWidth":0.6,"opacity":1},
"encoding":{"x":{"field":"g","type":"nominal","bandPosition":0.5,"axis":null,"scale":{"paddingInner":0,"paddingOuter":0,"domain":["u0","age & sex","u2","u3","u4","u5","u6","u7","histology","u9","u10","u11","u12","u13","u14","u15","u16","stage","u18","u19","u20","u21","u22","outcome","u24","u25","utitle","u27","u28","u29","u30","u31","chrom.","u33","u34","u35","u36","u37","u38","u39","u40","nCTTNB1","u42","u43","u44","u45","u46","cohort","u48","u49","u50","u51","u52"]}},
"y":{"field":"k","type":"nominal","bandPosition":1,"axis":null,"scale":{"paddingInner":0,"paddingOuter":0,"domain":["t","h","1","2","3","4","z"]}},
"fill":{"field":"cat","type":"nominal","legend":null,"scale":{"domain":["lt5","gt5","F","M","mel","classic","desmo","anap","M0","M1","M2","M3","df","prog","dead","bal","loss","gain","nd","neg","pos","wgs","valid","wt","mis","non","spl","fdel","homo","famp","micro"],"range":["#e3202a","#ffffff","#f3959a","#2f4e9d","#a8a8a8","#ffffff","#f5e71d","#e3202a","#ffffff","#f5e71d","#ef8a27","#e3202a","#ffffff","#f5e71d","#e3202a","#ffffff","#2f4e9d","#e3202a","#d2d2d2","#ffffff","#e3202a","#e8781f","#fbd6b6","#ffffff","#5b8d5d","#2f4e9d","#83bd5f","#b9e0ea","#111111","#e3202a","#c9bb98"]}}}},
{"data":{"name":"legU"},"mark":{"type":"text","fontSize":8.2,"align":"left","baseline":"middle","dx":4.3,"color":"#222222"},
"encoding":{"x":{"field":"g","type":"nominal","bandPosition":0.5,"axis":null},"y":{"field":"k","type":"nominal","bandPosition":1,"axis":null},"text":{"field":"label"}}},
{"data":{"values":[{"g":"age & sex"},{"g":"histology"},{"g":"stage"},{"g":"outcome"},{"g":"chrom."},{"g":"cohort"}]},"mark":{"type":"text","fontSize":8.4,"fontWeight":"bold","align":"left","baseline":"middle","color":"#222222"},
"encoding":{"x":{"field":"g","type":"nominal","bandPosition":0,"axis":null},"y":{"datum":"h","bandPosition":1,"axis":null},"text":{"field":"g"}}},
{"data":{"values":[{"t":"nCTTNB1"}]},"mark":{"type":"text","fontSize":5.5,"fontWeight":"bold","align":"center","baseline":"middle","color":"#222222"},
"encoding":{"x":{"datum":"nCTTNB1","bandPosition":0.5,"axis":null},"y":{"datum":"h","bandPosition":0.9,"axis":null},"text":{"field":"t"}}},
{"data":{"values":[{"t":"Key Upper Panel"}]},"mark":{"type":"text","fontSize":8.6,"fontWeight":"bold","align":"center","baseline":"middle","color":"#222222"},
"encoding":{"x":{"datum":"utitle","bandPosition":0.5,"axis":null},"y":{"datum":"t","bandPosition":0.55,"axis":null},"text":{"field":"t"}}}
]},
{"width":177,"height":60,"view":{"stroke":"#9a9a9a","strokeWidth":1.2},
"layer":[
{"data":{"name":"legL"},"mark":{"type":"square","size":44,"stroke":"#555555","strokeWidth":0.6,"opacity":1},
"encoding":{"x":{"field":"g","type":"nominal","bandPosition":0.5,"axis":null,"scale":{"paddingInner":0,"paddingOuter":0,"domain":["l0","c1","l2","l3","l4","l5","l6","l7","l8","l9","l10","l11","l12","l13","l14","l15","l16","l17","l18","c2","l20","ltitle","l22","l23","l24","l25","l26","l27","l28","l29","l30","l31","l32","note","l34","l35","l36","l37","l38","l39","l40","l41","l42","l43","l44","l45","l46","l47","l48","l49"]}},
"y":{"field":"k","type":"nominal","bandPosition":1,"axis":null,"scale":{"paddingInner":0,"paddingOuter":0,"domain":["t","h","1","2","3","4","z"]}},
"fill":{"field":"cat","type":"nominal","legend":null,"scale":{"domain":["lt5","gt5","F","M","mel","classic","desmo","anap","M0","M1","M2","M3","df","prog","dead","bal","loss","gain","nd","neg","pos","wgs","valid","wt","mis","non","spl","fdel","homo","famp","micro"],"range":["#e3202a","#ffffff","#f3959a","#2f4e9d","#a8a8a8","#ffffff","#f5e71d","#e3202a","#ffffff","#f5e71d","#ef8a27","#e3202a","#ffffff","#f5e71d","#e3202a","#ffffff","#2f4e9d","#e3202a","#d2d2d2","#ffffff","#e3202a","#e8781f","#fbd6b6","#ffffff","#5b8d5d","#2f4e9d","#83bd5f","#b9e0ea","#111111","#e3202a","#c9bb98"]}}}},
{"data":{"name":"legL"},"mark":{"type":"text","fontSize":8.2,"align":"left","baseline":"middle","dx":4.3,"color":"#222222"},
"encoding":{"x":{"field":"g","type":"nominal","bandPosition":0.5,"axis":null},"y":{"field":"k","type":"nominal","bandPosition":1,"axis":null},"text":{"field":"label"}}},
{"data":{"values":[{"t":"Key Lower Panel"}]},"mark":{"type":"text","fontSize":8.6,"fontWeight":"bold","align":"center","baseline":"middle","color":"#222222"},
"encoding":{"x":{"datum":"ltitle","bandPosition":0.5,"axis":null},"y":{"datum":"t","bandPosition":0.55,"axis":null},"text":{"field":"t"}}},
{"data":{"values":[{"k":"2","t":"Slash="},{"k":"3","t":"loss/mut WT allele"},{"k":"4","t":"inc. X chr in males"}]},"mark":{"type":"text","fontSize":5.6,"align":"left","baseline":"middle","color":"#222222"},
"encoding":{"x":{"datum":"note","bandPosition":0,"axis":null},"y":{"field":"k","type":"nominal","bandPosition":0.6,"axis":null},"text":{"field":"t"}}}
]}
],"spacing":3}
]}
